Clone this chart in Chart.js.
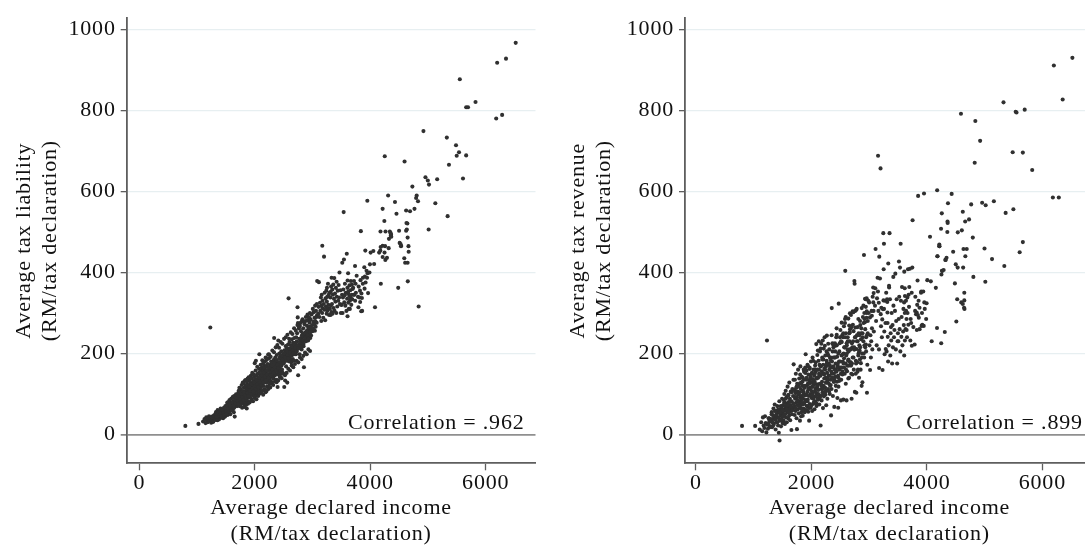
<!DOCTYPE html>
<html>
<head>
<meta charset="utf-8">
<script src="https://cdn.jsdelivr.net/npm/chart.js@4.4.1/dist/chart.umd.min.js"></script>
<style>
  html, body { margin: 0; padding: 0; background: #fff; overflow: hidden; }
  #wrap { position: relative; width: 1085px; height: 549px; overflow: hidden; background: #fff; }
  canvas { position: absolute; top: 0; }
  #liabilityChart { left: 0; }
  #revenueChart { left: 542px; }
</style>
</head>
<body>
<div id="wrap">
  <canvas id="liabilityChart" width="545" height="549"></canvas>
  <canvas id="revenueChart" width="560" height="549"></canvas>
</div>
<script>
// Average declared income per district (RM per tax declaration), shared by both panels
const income = [
  // below 1300
  798, 1025, 1230, 1105, 1130, 1148, 1160, 1172, 1185, 1196, 1208, 1220, 1232, 1246, 1258, 1270, 1284, 1296,
  // 1300-1500
  1305, 1312, 1320, 1328, 1335, 1342, 1350, 1357, 1364, 1372, 1380, 1386, 1393, 1400, 1408, 1415, 1422, 1430, 1435, 1444,
  1448, 1452, 1460, 1466, 1473, 1480, 1486, 1492, 1497, 1500,
  // 1500-1700
  1502, 1506, 1508, 1512, 1517, 1522, 1527, 1531, 1536, 1540, 1545, 1550, 1554, 1558, 1563, 1568, 1573, 1577, 1582, 1587,
  1592, 1597, 1602, 1607, 1612, 1617, 1622, 1627, 1632, 1637, 1642, 1647, 1653, 1658, 1664, 1670, 1676, 1682, 1689, 1692,
  // 1700-1900
  1702, 1706, 1710, 1714, 1718, 1722, 1726, 1730, 1734, 1738, 1742, 1746, 1749, 1753, 1757, 1761, 1765, 1769, 1773, 1777,
  1781, 1785, 1789, 1793, 1797, 1801, 1805, 1809, 1813, 1817, 1821, 1825, 1829, 1833, 1837, 1841, 1845, 1849, 1853, 1857,
  1861, 1865, 1869, 1873, 1877, 1881, 1885, 1889, 1893, 1897,
  // 1900-2100
  1900, 1904, 1908, 1912, 1916, 1920, 1924, 1928, 1932, 1936, 1940, 1944, 1948, 1952, 1956, 1960, 1964, 1968, 1972, 1976,
  1980, 1984, 1988, 1992, 1996, 2000, 2004, 2008, 2012, 2016, 2020, 2024, 2028, 2032, 2036, 2040, 2044, 2048, 2052, 2056,
  2060, 2064, 2068, 2072, 2076, 2080, 2084, 2088, 2092, 2096,
  // 2100-2300
  2100, 2104, 2108, 2111, 2116, 2120, 2124, 2128, 2132, 2136, 2140, 2144, 2148, 2152, 2156, 2159, 2164, 2168, 2171, 2176,
  2180, 2184, 2188, 2192, 2196, 2200, 2204, 2208, 2212, 2216, 2220, 2224, 2228, 2232, 2236, 2240, 2244, 2248, 2252, 2256,
  2260, 2264, 2268, 2272, 2276, 2280, 2284, 2288, 2292, 2296,
  // 2300-2500
  2300, 2304, 2309, 2313, 2318, 2322, 2327, 2331, 2336, 2340, 2344, 2348, 2352, 2356, 2360, 2364, 2368, 2372, 2377, 2381,
  2386, 2390, 2396, 2400, 2404, 2408, 2412, 2416, 2420, 2425, 2430, 2434, 2438, 2442, 2446, 2450, 2455, 2460, 2464, 2468,
  2473, 2478, 2484, 2490, 2496,
  // 2500-2700
  2502, 2506, 2511, 2516, 2521, 2526, 2533, 2538, 2543, 2548, 2553, 2558, 2563, 2567, 2572, 2577, 2582, 2586, 2590, 2594,
  2598, 2603, 2608, 2613, 2618, 2624, 2629, 2634, 2639, 2644, 2649, 2654, 2659, 2664, 2667, 2672, 2677, 2684, 2690, 2696,
  // 2700-2900
  2702, 2708, 2714, 2718, 2722, 2728, 2734, 2741, 2744, 2748, 2752, 2756, 2762, 2768, 2774, 2778, 2782, 2788, 2794, 2800,
  2806, 2812, 2818, 2824, 2830, 2835, 2840, 2846, 2852, 2858, 2864, 2870, 2878, 2883, 2892,
  // 2900-3100
  2900, 2906, 2910, 2916, 2918, 2925, 2932, 2940, 2942, 2948, 2955, 2956, 2958, 2962, 2968, 2975, 2985, 2993, 3000, 3006,
  3014, 3016, 3022, 3030, 3036, 3042, 3046, 3048, 3055, 3061, 3070, 3072, 3076, 3078, 3081,
  // 3100-3300
  3101, 3106, 3111, 3120, 3130, 3136, 3146, 3152, 3154, 3160, 3167, 3170, 3172, 3175, 3187, 3197, 3200, 3205, 3211, 3220,
  3227, 3232, 3240, 3245, 3248, 3251, 3256, 3257, 3262, 3268, 3275, 3282, 3287, 3295,
  // 3300-3500
  3302, 3310, 3314, 3317, 3319, 3322, 3328, 3331, 3338, 3344, 3346, 3353, 3360, 3366, 3372, 3378, 3382, 3390, 3398, 3405,
  3412, 3418, 3421, 3430, 3438, 3447, 3453, 3462, 3468, 3476, 3485, 3492, 3498,
  // 3500-3700
  3505, 3512, 3516, 3521, 3528, 3534, 3540, 3545, 3550, 3558, 3562, 3569, 3576, 3588, 3594, 3600, 3605, 3607, 3608, 3616,
  3617, 3619, 3620, 3630, 3637, 3640, 3647, 3649, 3655, 3662, 3665, 3672, 3679, 3683, 3690, 3695,
  // 3700-4000
  3705, 3713, 3719, 3727, 3737, 3739, 3747, 3752, 3765, 3788, 3796, 3800, 3812, 3823, 3826, 3832, 3838, 3844, 3848, 3856,
  3860, 3872, 3874, 3898, 3902, 3908, 3915, 3920, 3937, 3950, 3945, 3955, 3963, 3987, 3995,
  // 4000 and above
  4007, 4054, 4068, 4083, 4155, 4175, 4178, 4184, 4215, 4216, 4245, 4248, 4252, 4258, 4265, 4290, 4310, 4325, 4340, 4357,
  4354, 4360, 4365, 4429, 4455, 4485, 4500, 4510, 4533, 4525, 4535, 4590, 4595, 4605, 4622, 4622, 4628, 4634, 4644, 4648,
  4648, 4651, 4663, 4666, 4690, 4730, 4767, 4795, 4805, 4828, 4839, 4922, 4957, 4998, 5012, 5018, 5128, 5160, 5327, 5341,
  5364, 5486, 5498, 5538, 5552, 5607, 5662, 5662, 5694, 5824, 6182, 6199, 6285, 6352, 6520,
  4181, 4216, 4262, 4320,
  // further districts in the 1250-3000 range
  1255, 1268, 1281, 1294, 1310, 1323, 1338, 1352, 1367, 1381,
  1396, 1410, 1425, 1439, 1454, 1469, 1483, 1498, 1513, 1527,
  1541, 1556, 1571, 1585, 1599, 1614, 1628, 1643, 1657, 1671,
  1686, 1700, 1715, 1729, 1744, 1758, 1773, 1787, 1802, 1816,
  1830, 1845, 1859, 1874, 1888, 1903, 1917, 1932, 1946, 1961,
  1975, 1990, 2004, 2019, 2033, 2048, 2062, 2077, 2091, 2106,
  2120, 2135, 2149, 2164, 2178, 2193, 2207, 2222, 2236, 2251,
  2265, 2280, 2294, 2309, 2323, 2338, 2352, 2367, 2381, 2396,
  2410, 2425, 2439, 2454, 2468, 2483, 2497, 2512, 2526, 2541,
  2555, 2570, 2584, 2599, 2613, 2628, 2642, 2657, 2671, 2686,
  2700, 2715, 2729, 2744, 2758, 2773, 2787, 2802, 2816, 2831,
  2845, 2860, 2874, 2889, 2903, 2918, 2932, 2947, 2961, 2976,
  // districts along the edges of the 1800-3000 band
  1805, 1822, 1838, 1851, 1866, 1882, 1895, 1911, 1926, 1942,
  1957, 1971, 1986, 2001, 2015, 2030, 2044, 2059, 2073, 2088,
  2102, 2117, 2131, 2146, 2160, 2175, 2189, 2204, 2218, 2233,
  2247, 2262, 2276, 2291, 2305, 2320, 2334, 2349, 2363, 2378,
  2392, 2407, 2421, 2436, 2450, 2465, 2479, 2494, 2508, 2523,
  2537, 2552, 2566, 2581, 2595, 2610, 2624, 2639, 2653, 2668,
  2682, 2697, 2711, 2726, 2740, 2755, 2769, 2784, 2798, 2813,
  2827, 2842, 2856, 2871, 2885, 2900, 2914, 2929, 2943, 2958
];

// Average tax liability (RM per tax declaration), same order as income
const liability = [
  21, 26, 264, 32, 38, 28, 42, 35, 30, 40, 45, 33, 37, 29, 44, 39, 34, 47,
  40, 48, 36, 55, 44, 38, 52, 60, 43, 49, 37, 58, 51, 45, 64, 50, 41, 56, 47, 60,
  46, 40, 54, 66, 48, 58, 44, 70, 52, 62,
  60, 52, 66, 70, 56, 78, 63, 48, 72, 80, 55, 67, 62, 75, 85, 58, 70, 50, 79, 65,
  88, 68, 60, 77, 73, 92, 63, 82, 69, 55, 95, 74, 44, 80, 89, 72, 99, 78, 86, 70,
  80, 96, 72, 102, 88, 108, 76, 92, 115, 70, 100, 86, 106, 90, 74, 112, 95, 82, 122, 88,
  66, 104, 97, 128, 80, 107, 91, 75, 116, 99, 84, 132, 94, 105, 78, 118, 100, 86, 110, 95,
  64, 124, 106, 90, 138, 100, 82, 116, 103, 93,
  105, 122, 95, 135, 112, 92, 128, 108, 145, 100, 118, 86, 138, 110, 125, 104, 150, 115, 98, 132,
  120, 94, 142, 109, 127, 176, 114, 102, 136, 121, 182, 106, 130, 96, 145, 117, 103, 150, 124, 111,
  140, 98, 133, 119, 152, 198, 113, 137, 105, 126,
  128, 146, 115, 158, 136, 124, 165, 142, 108, 152, 134, 175, 120, 160, 140, 130, 170, 146, 112, 162,
  133, 155, 104, 182, 143, 128, 168, 150, 118, 158, 140, 174, 132, 197, 112, 166, 146, 188, 126, 160,
  138, 150, 116, 172, 155, 132, 180, 144, 162, 128,
  152, 170, 142, 178, 160, 165, 138, 184, 238, 154, 172, 146, 168, 190, 160, 148, 180, 162, 135, 196,
  170, 156, 117, 175, 148, 232, 162, 154, 178, 200, 165, 142, 192, 172, 158, 186, 150, 205, 170, 178,
  160, 192, 152, 198, 176,
  178, 195, 117, 208, 185, 133, 200, 218, 168, 192, 186, 212, 128, 198, 182, 222, 190, 336, 205, 188,
  180, 228, 196, 184, 210, 194, 220, 178, 206, 235, 196, 212, 186, 226, 202, 218, 182, 238, 210, 198,
  210, 226, 198, 240, 218, 205, 250, 314, 289, 275, 146, 215, 262, 222, 236, 198, 268, 228, 215, 255,
  238, 210, 280, 225, 248, 232, 262, 218, 166, 242, 272, 235, 252, 280, 246,
  250, 268, 240, 282, 258, 232, 290, 262, 245, 276, 254, 300, 266, 238, 284, 260, 296, 270, 255, 310,
  278, 262, 302, 272, 288, 256, 318, 280, 266, 305, 290, 276, 322, 294, 379,
  298, 315, 376, 290, 325, 305, 338, 280, 318, 345, 300, 466, 312, 330, 288, 322, 439, 308, 350, 282,
  336, 315, 355, 298, 328, 362, 305, 340, 312, 372, 320, 345, 295, 350,
  310, 338, 295, 352, 318, 365, 302, 387, 322, 358, 298, 345, 370, 312, 335, 386, 305, 348, 328, 362,
  300, 377, 340, 316, 355, 330, 369, 338, 400, 322, 356, 300, 320,
  320, 345, 424, 300, 338, 358, 549, 432, 326, 344, 372, 318, 350, 305, 446, 335, 362, 292, 380, 348,
  398, 325, 353, 310, 342, 368, 310, 330, 356, 338, 379, 320, 345, 370, 334, 359,
  362, 345, 379, 345, 416, 330, 372, 350, 392, 340, 314, 365, 338, 355, 327, 381, 502, 304, 348, 337,
  305, 372, 387, 413, 360, 390, 454, 375, 404, 577, 387, 398, 349, 400, 420,
  449, 453, 421, 314, 449, 454, 501, 372, 557, 466, 527, 449, 687, 465, 501, 436, 590, 483, 501, 491,
  497, 494, 488, 574, 545, 362, 503, 473, 465, 470, 466, 435, 674, 424, 553, 503, 522, 506, 521, 486,
  424, 378, 465, 451, 551, 612, 557, 584, 590, 576, 316, 749, 635, 627, 506, 617, 571, 630, 733, 539,
  666, 714, 688, 697, 877, 632, 808, 689, 808, 821, 780, 918, 789, 928, 967,
  463, 438, 431, 460,
  36, 42, 31, 46, 38, 50, 43, 35, 54, 47,
  57, 49, 44, 60, 53, 48, 66, 58, 50, 71,
  64, 57, 74, 68, 60, 79, 71, 66, 85, 76,
  90, 82, 75, 94, 86, 80, 99, 92, 85, 104,
  96, 90, 112, 102, 95, 118, 108, 100, 124, 113,
  106, 128, 119, 112, 134, 124, 117, 140, 130, 122,
  146, 136, 128, 152, 142, 134, 158, 148, 140, 165,
  154, 146, 170, 160, 152, 176, 166, 158, 183, 172,
  164, 188, 178, 170, 194, 184, 176, 200, 190, 182,
  206, 196, 188, 212, 202, 194, 218, 208, 200, 224,
  214, 206, 230, 220, 212, 236, 226, 218, 244, 232,
  224, 250, 238, 230, 256, 246, 236, 264, 252, 244,
  126, 68, 134, 73, 131, 76, 141, 79, 138, 83,
  152, 82, 148, 90, 158, 87, 167, 95, 162, 101,
  172, 103, 183, 98, 178, 110, 190, 107, 186, 118,
  198, 117, 192, 126, 207, 122, 203, 131, 215, 129,
  221, 133, 214, 142, 228, 139, 224, 150, 236, 146,
  240, 152, 246, 162, 236, 158, 252, 170, 248, 166,
  262, 174, 256, 182, 270, 178, 266, 190, 276, 186,
  284, 194, 278, 202, 290, 198, 296, 210, 288, 206
];

// Average tax revenue (RM per tax declaration), same order as income
const revenue = [
  21, 21, 232, 12, 30, 8, 42, 22, 16, 45, 28, 5, 24, 14, 40, 33, 20, 38,
  32, 55, 18, 48, 38, 64, 26, 44, 74, 36, 12, 58, 50, 30, 70, 42, 22, 54, 4, 82,
  -15, 34, 62, 47, 20, 66, 38, 88, 52, 28,
  45, 72, 60, 58, 34, 85, 62, 100, 50, 26, 78, 68, 108, 42, 60, 92, 30, 75, 54, 118,
  66, 40, 98, 80, 46, 128, 62, 88, 35, 72, 106, 58, 11, 82, 50, 112, 66, 95, 135, 173,
  70, 110, 48, 135, 88, 102, 58, 150, 78, 115, 40, 92, 13, 125, 72, 106, 62, 160, 82, 98,
  52, 118, 138, 76, 104, 34, 90, 168, 66, 112, 80, 128, 55, 142, 95, 74, 120, 46, 108, 88,
  135, 64, 100, 155, 78, 115, 60, 96, 165, 85,
  198, 82, 135, 98, 158, 70, 120, 105, 172, 86, 126, 56, 148, 112, 95, 34, 134, 165, 75, 115,
  100, 142, 66, 180, 108, 128, 90, 152, 58, 118, 190, 102, 136, 76, 160, 122, 92, 145, 62, 130,
  108, 170, 82, 155, 114, 96, 223, 70, 138, 124,
  118, 160, 90, 207, 140, 110, 182, 230, 150, 74, 172, 125, 205, 96, 145, 22, 168, 112, 224, 84,
  156, 130, 190, 104, 232, 65, 172, 120, 212, 94, 148, 162, 240, 219, 116, 195, 98, 140, 168, 72,
  128, 182, 244, 152, 88, 200, 134, 112, 172, 145,
  175, 125, 210, 145, 100, 189, 165, 135, 190, 47, 155, 112, 312, 180, 140, 225, 223, 95, 165, 215,
  130, 150, 68, 190, 160, 219, 205, 142, 175, 108, 240, 155, 246, 130, 192, 90, 170, 145, 66, 118,
  323, 180, 160, 225, 135,
  258, 165, 84, 135, 195, 228, 245, 155, 180, 240, 86, 200, 267, 165, 215, 150, 285, 404, 175, 290,
  250, 195, 84, 220, 156, 210, 240, 182, 138, 205, 170, 269, 230, 252, 299, 178, 210, 295, 150, 88,
  175, 215, 304, 271, 230, 190, 160, 210, 379, 372, 105, 305, 264, 150, 307, 103, 211, 245, 178, 230,
  160, 195, 250, 140, 220, 207, 185, 270, 160, 235, 262, 120, 200, 129, 290,
  318, 200, 443, 300, 285, 277, 215, 334, 315, 240, 288, 336, 304, 103, 172, 250, 330, 300, 326, 220,
  289, 159, 245, 190, 230, 305, 293, 262, 210, 340, 363, 326, 305, 349, 254,
  318, 361, 458, 280, 220, 336, 387, 353, 688, 305, 325, 210, 164, 439, 385, 657, 297, 267, 313, 240,
  284, 159, 309, 497, 331, 408, 471, 310, 254, 198, 330, 275, 211, 350,
  205, 334, 327, 301, 275, 241, 180, 422, 220, 367, 363, 497, 334, 195, 250, 265, 232, 300, 175, 270,
  215, 389, 318, 240, 258, 305, 397, 210, 280, 334, 175, 230, 250,
  230, 285, 427, 340, 260, 412, 205, 471, 330, 241, 290, 364, 220, 254, 310, 270, 326, 195, 402, 361,
  300, 232, 342, 260, 330, 305, 285, 258, 240, 338, 300, 408, 271, 345, 315, 364,
  409, 232, 285, 275, 350, 219, 412, 529, 265, 222, 305, 340, 297, 301, 258, 320, 380, 295, 589, 330,
  288, 313, 260, 350, 353, 268, 300, 271, 353, 595, 268, 326, 310, 285, 324,
  381, 488, 378, 230, 362, 263, 603, 440, 469, 465, 508, 225, 395, 546, 404, 406, 253, 431, 436, 526,
  500, 522, 571, 594, 451, 373, 420, 279, 412, 334, 499, 792, 326, 504, 550, 322, 412, 458, 313, 331,
  350, 310, 526, 440, 458, 531, 568, 486, 389, 671, 774, 725, 572, 459, 377, 566, 433, 576, 820, 416,
  547, 697, 556, 797, 795, 450, 696, 475, 802, 653, 585, 911, 585, 827, 930,
  440, 465, 404, 431,
  26, 40, 18, 35, 50, 30, 22, 44, 58, 38,
  48, 30, 62, 40, 55, 70, 36, 60, 45, 78,
  50, 88, 62, 72, 96, 55, 80, 68, 104, 60,
  76, 110, 92, 64, 118, 84, 100, 70, 126, 95,
  86, 130, 104, 75, 120, 98, 140, 82, 112, 125,
  135, 96, 150, 118, 88, 128, 160, 104, 140, 120,
  100, 145, 170, 125, 150, 112, 185, 138, 160, 128,
  175, 140, 195, 160, 120, 182, 150, 205, 168, 135,
  190, 158, 220, 175, 140, 205, 180, 230, 165, 198,
  175, 215, 240, 160, 200, 230, 185, 250, 210, 170,
  225, 190, 255, 210, 240, 175, 230, 265, 200, 245,
  215, 250, 190, 240, 275, 220, 260, 205, 245, 280,
  148, 45, 62, 140, 160, 55, 152, 60, 70, 168,
  65, 162, 140, 72, 96, 182, 80, 150, 178, 76,
  196, 86, 160, 92, 212, 120, 185, 98, 150, 104,
  108, 205, 135, 224, 106, 170, 122, 245, 140, 190,
  130, 225, 120, 262, 165, 200, 132, 240, 150, 276,
  148, 250, 188, 275, 125, 225, 170, 286, 140, 260,
  178, 265, 148, 302, 215, 240, 182, 310, 155, 285,
  205, 280, 176, 312, 250, 230, 190, 335, 222, 300
];

// Axis ticks and annotation text
const incomeTicks = [0, 2000, 4000, 6000];
const taxTicks = [0, 200, 400, 600, 800, 1000];
const correlations = ['Correlation = .962', 'Correlation = .899'];
const incomeTitle = ['Average declared income', '(RM/tax declaration)'];
const liabilityTitle = ['Average tax liability', '(RM/tax declaration)'];
const revenueTitle = ['Average tax revenue', '(RM/tax declaration)'];

const fontFamily = "'Liberation Serif', 'Times New Roman', serif";
const textFont = { family: fontFamily, size: 22, lineHeight: 1.18 };
const letterSpacing = '0.8px';
const axisColor = '#5e5e5e';
const gridColor = '#e7eff1';
const zeroColor = '#8f8f8f';
const markerColor = '#303030';

function pairs(xs, ys) {
  const n = Math.min(xs.length, ys.length);
  const out = [];
  for (let i = 0; i < n; i++) out.push({ x: xs[i], y: ys[i] });
  return out;
}

// Slightly wider lettering for every label the chart draws
const textSpacing = {
  id: 'textSpacing',
  beforeUpdate(chart) { chart.ctx.letterSpacing = letterSpacing; },
  beforeDraw(chart) { chart.ctx.letterSpacing = letterSpacing; }
};

// Writes the correlation coefficient just above the y = 0 reference line
const correlationLabel = {
  id: 'correlationLabel',
  afterDatasetsDraw(chart, args, opts) {
    const { ctx, chartArea, scales } = chart;
    ctx.save();
    ctx.font = textFont.size + 'px ' + fontFamily;
    ctx.fillStyle = '#111';
    ctx.textAlign = 'right';
    ctx.textBaseline = 'alphabetic';
    ctx.fillText(opts.text, chartArea.right - 11, scales.y.getPixelForValue(0) - 5);
    ctx.restore();
  }
};

function panel(canvasId, ys, p) {
  return new Chart(document.getElementById(canvasId), {
    type: 'scatter',
    data: {
      datasets: [{
        data: pairs(income, ys),
        pointRadius: 2.05,
        pointBorderWidth: 0,
        pointBackgroundColor: markerColor,
        pointBorderColor: markerColor
      }]
    },
    plugins: [textSpacing, correlationLabel],
    options: {
      responsive: false,
      animation: false,
      events: [],
      layout: { padding: { left: 0, right: p.padRight, top: 15.75, bottom: 0 } },
      plugins: {
        legend: { display: false },
        tooltip: { enabled: false },
        correlationLabel: { text: p.corr }
      },
      scales: {
        x: {
          type: 'linear',
          min: p.xMin,
          max: p.xMax,
          afterBuildTicks: s => { s.ticks = incomeTicks.map(v => ({ value: v })); },
          afterFit: s => { s.height = 85.7; },
          border: { display: true, color: axisColor, width: 1.8 },
          grid: { drawOnChartArea: false, drawTicks: true, tickLength: 7, tickColor: axisColor, tickWidth: 1.3 },
          ticks: { font: textFont, color: '#111', padding: 0, maxRotation: 0, autoSkip: false, callback: v => String(v) },
          title: { display: true, text: incomeTitle, font: textFont, color: '#111', padding: { top: 0, bottom: 2 } }
        },
        y: {
          type: 'linear',
          min: -71.3,
          max: 1028.4,
          afterBuildTicks: s => { s.ticks = taxTicks.map(v => ({ value: v })); },
          afterFit: s => { s.width = p.yWidth; },
          border: { display: true, color: axisColor, width: 1.8 },
          grid: {
            drawOnChartArea: true,
            drawTicks: true,
            tickLength: 6,
            tickColor: axisColor,
            tickWidth: 1.3,
            color: c => (c.tick && c.tick.value === 0 ? zeroColor : gridColor),
            lineWidth: c => (c.tick && c.tick.value === 0 ? 1.8 : 1.3)
          },
          ticks: { font: textFont, color: '#111', padding: 5, callback: v => String(v) },
          title: { display: true, text: p.yTitle, font: textFont, color: '#111', padding: { top: p.yTitlePad, bottom: 0 } }
        }
      }
    }
  });
}

panel('liabilityChart', liability, {
  corr: correlations[0], yTitle: liabilityTitle,
  xMin: -218, xMax: 6863, yWidth: 126.7, padRight: 9.5, yTitlePad: 11.5
});
panel('revenueChart', revenue, {
  corr: correlations[1], yTitle: revenueTitle,
  xMin: -190, xMax: 6891, yWidth: 143, padRight: 8.2, yTitlePad: 23.5
});
</script>
</body>
</html>
